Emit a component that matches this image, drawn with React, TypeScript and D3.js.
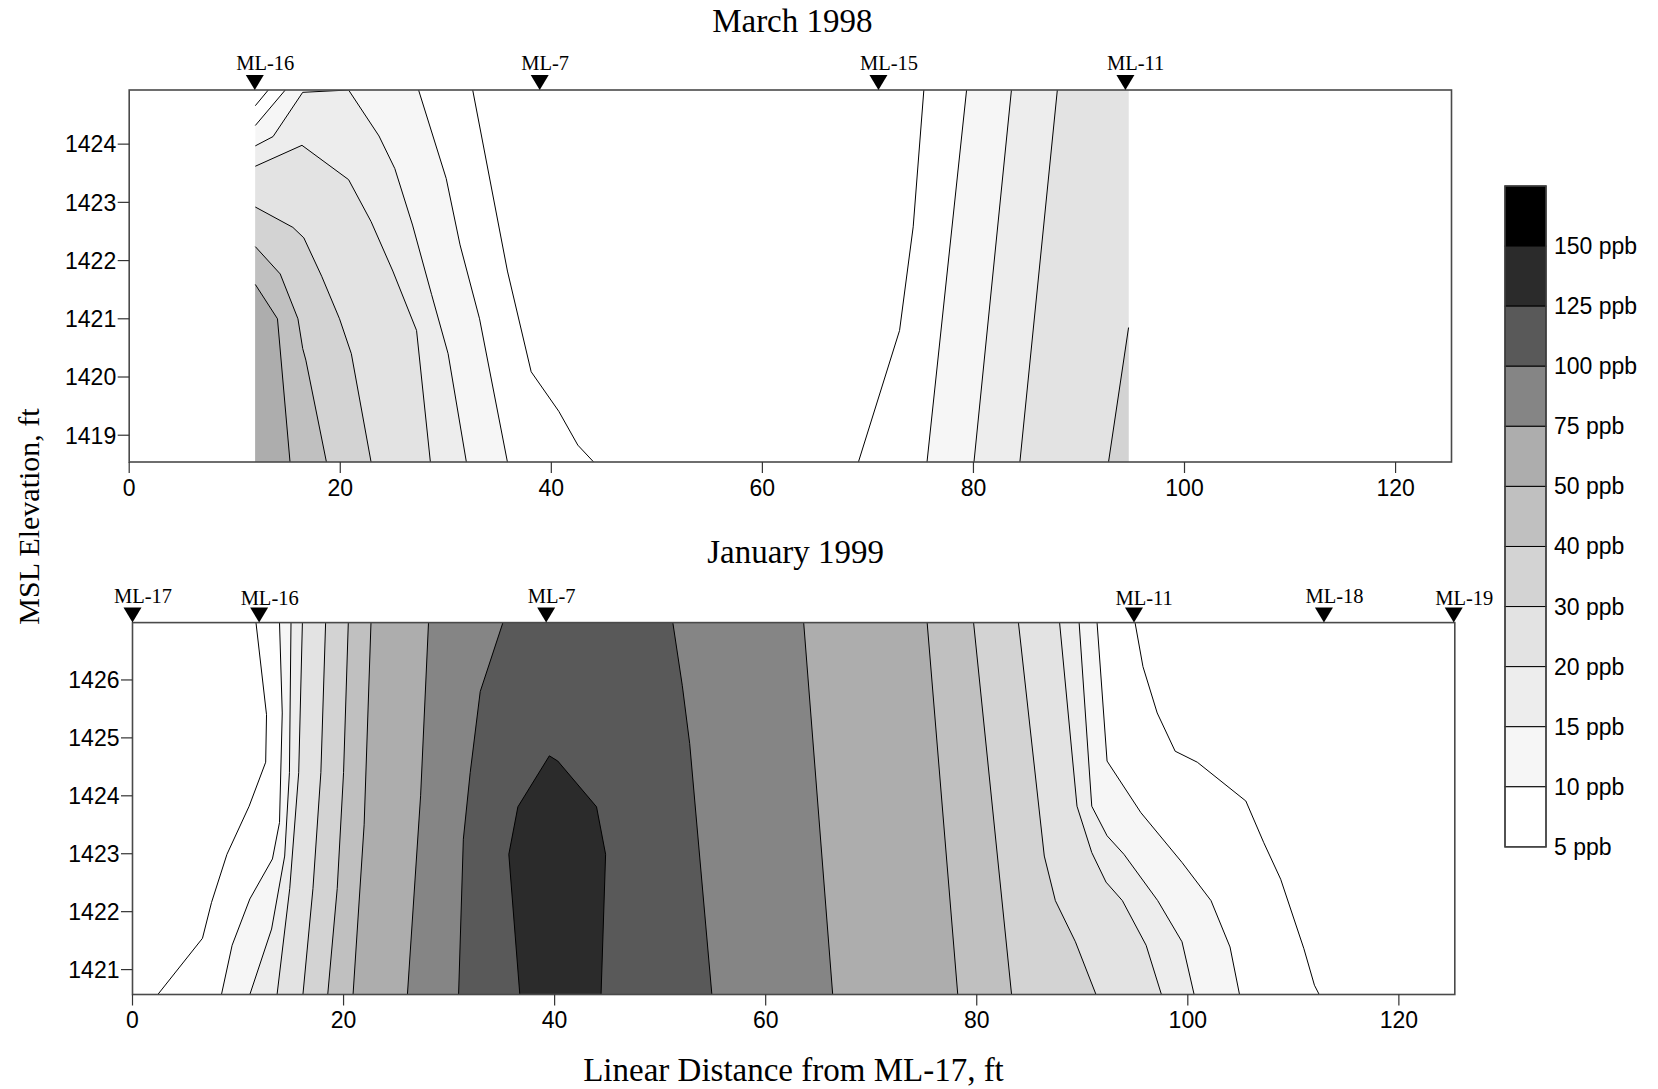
import React from "react";
import * as d3 from "d3";

type Pt = [number, number];

// ---------------- data ----------------
const contourLevels = [5, 10, 15, 20, 30, 40, 50, 75, 100, 125, 150];
const bandFills = ["#ffffff", "#ffffff", "#f6f6f6", "#ededed", "#e3e3e3", "#d3d3d3", "#c0c0c0", "#adadad", "#858585", "#595959", "#2b2b2b", "#000000"];
const legendLabels = ["150 ppb", "125 ppb", "100 ppb", "75 ppb", "50 ppb", "40 ppb", "30 ppb", "20 ppb", "15 ppb", "10 ppb", "5 ppb"];
const xTickValues = [0, 20, 40, 60, 80, 100, 120];
const marchYTicks = [1419, 1420, 1421, 1422, 1423, 1424];
const janYTicks = [1421, 1422, 1423, 1424, 1425, 1426];

const marchWellNames = ["ML-16", "ML-7", "ML-15", "ML-11"];
const marchWellX = [11.9, 38.9, 71.0, 94.4];
const janWellNames = ["ML-17", "ML-16", "ML-7", "ML-11", "ML-18", "ML-19"];
const janWellX = [0, 12.0, 39.2, 94.9, 112.9, 125.2];

const marchDomainX: Pt = [0, 125.3];
const marchDomainY: Pt = [1418.54, 1424.93];
const marchDataX: Pt = [11.95, 94.7];
const janDomainX: Pt = [0, 125.3];
const janDomainY: Pt = [1420.57, 1426.99];

// March 1998 – west plume (high values toward ML-16, lower-left)
const marW50: Pt[][] = [[[11.95, 1421.59], [14.05, 1421.0], [15.24, 1418.54]]];
const marW40: Pt[][] = [[[11.95, 1422.24], [14.31, 1421.77], [15.99, 1421.0], [16.44, 1420.49], [16.74, 1420.29], [18.69, 1418.54]]];
const marW30: Pt[][] = [[[11.95, 1422.92], [15.51, 1422.57], [16.55, 1422.39], [18.24, 1421.73], [19.93, 1421.0], [21.05, 1420.4], [22.92, 1418.54]]];
const marW20: Pt[][] = [[[11.95, 1423.62], [16.37, 1423.98], [20.79, 1423.39], [22.92, 1422.67], [24.98, 1421.82], [27.23, 1420.8], [28.54, 1418.54]]];
const marW15: Pt[][] = [[[11.95, 1423.97], [13.63, 1424.13], [16.44, 1424.89], [20.79, 1424.93], [23.67, 1424.14], [25.17, 1423.58], [26.85, 1422.61], [28.65, 1421.42], [30.22, 1420.4], [31.95, 1418.54]]];
const marW10: Pt[][] = [
  [[11.95, 1424.32], [14.79, 1424.93]],
  [[27.42, 1424.93], [30.04, 1423.41], [31.35, 1422.27], [33.2, 1421.0], [35.84, 1418.54]],
];
const marW5: Pt[][] = [
  [[11.95, 1424.66], [13.18, 1424.93]],
  [[32.55, 1424.93], [35.84, 1421.82], [38.09, 1420.09], [40.71, 1419.41], [42.51, 1418.83], [44.01, 1418.54]],
];
// March 1998 – east plume (high values toward ML-11)
const marE5: Pt[][] = [[[75.3, 1424.93], [74.29, 1422.58], [73.0, 1420.8], [69.1, 1418.54]]];
const marE10: Pt[][] = [[[79.35, 1424.93], [75.6, 1418.54]]];
const marE15: Pt[][] = [[[83.6, 1424.93], [80.05, 1418.54]]];
const marE20: Pt[][] = [[[87.95, 1424.93], [84.4, 1418.54]]];
const marE30: Pt[][] = [[[94.7, 1420.85], [92.8, 1418.54]]];

// January 1999 – left flank (top -> bottom)
const janL5: Pt[] = [[11.7, 1426.99], [12.7, 1425.4], [12.62, 1424.58], [11.05, 1423.82], [8.95, 1422.99], [7.49, 1422.16], [6.63, 1421.54], [2.4, 1420.57]];
const janL10: Pt[] = [[13.93, 1426.99], [14.19, 1425.43], [13.93, 1423.54], [13.26, 1422.91], [11.12, 1422.22], [9.44, 1421.42], [8.43, 1420.57]];
const janL15: Pt[] = [[15.02, 1426.99], [14.87, 1424.4], [14.42, 1422.96], [13.18, 1421.7], [11.12, 1420.57]];
const janL20: Pt[] = [[16.1, 1426.99], [15.75, 1424.4], [14.9, 1422.4], [13.7, 1420.57]];
const janL30: Pt[] = [[18.3, 1426.99], [17.85, 1424.4], [17.1, 1422.4], [16.15, 1420.57]];
const janL40: Pt[] = [[20.45, 1426.99], [20.0, 1424.4], [19.4, 1422.4], [18.5, 1420.57]];
const janL50: Pt[] = [[22.6, 1426.99], [21.95, 1423.5], [20.9, 1420.57]];
const janL75: Pt[] = [[28.05, 1426.99], [27.3, 1424.0], [26.05, 1420.57]];
const janL100: Pt[] = [[35.1, 1426.99], [32.95, 1425.8], [32.0, 1424.4], [31.35, 1423.25], [30.9, 1420.57]];
// January 1999 – right flank (top -> bottom)
const janR5: Pt[] = [[95.0, 1426.99], [95.75, 1426.23], [97.1, 1425.43], [98.8, 1424.77], [100.9, 1424.58], [105.5, 1423.91], [107.2, 1423.19], [108.8, 1422.56], [111.0, 1421.36], [112.0, 1420.73], [112.45, 1420.57]];
const janR10: Pt[] = [[91.4, 1426.99], [92.35, 1424.6], [95.55, 1423.71], [99.45, 1422.85], [102.2, 1422.19], [104.0, 1421.39], [104.9, 1420.57]];
const janR15: Pt[] = [[89.7, 1426.99], [90.9, 1423.82], [92.35, 1423.31], [93.95, 1422.99], [97.15, 1422.19], [99.45, 1421.48], [100.6, 1420.57]];
const janR20: Pt[] = [[87.85, 1426.99], [89.5, 1423.82], [90.9, 1423.02], [92.25, 1422.51], [93.8, 1422.19], [96.05, 1421.42], [97.5, 1420.57]];
const janR30: Pt[] = [[83.95, 1426.99], [86.4, 1422.96], [87.45, 1422.19], [89.35, 1421.48], [91.3, 1420.57]];
const janR40: Pt[] = [[79.7, 1426.99], [83.3, 1420.57]];
const janR50: Pt[] = [[75.3, 1426.99], [78.2, 1420.57]];
const janR75: Pt[] = [[63.6, 1426.99], [66.35, 1420.57]];
const janR100: Pt[] = [[51.2, 1426.99], [52.1, 1425.9], [52.8, 1424.9], [54.9, 1420.57]];
// closed 125 ppb core (resting on the bottom boundary)
const jan125: Pt[] = [[36.7, 1420.57], [35.66, 1422.99], [36.52, 1423.81], [39.5, 1424.69], [40.3, 1424.6], [43.97, 1423.81], [44.83, 1422.99], [44.4, 1420.57]];

// ---------------- helpers ----------------
const color = d3.scaleThreshold<number, string>().domain(contourLevels).range(bandFills);

type Region = { level: number; polygon: Pt[]; lines: Pt[][] };

function marchRegions(): Region[] {
  const [yb, yt] = marchDomainY;
  const west: [number, Pt[][]][] = [[5, marW5], [10, marW10], [15, marW15], [20, marW20], [30, marW30], [40, marW40], [50, marW50]];
  const east: [number, Pt[][]][] = [[5, marE5], [10, marE10], [15, marE15], [20, marE20], [30, marE30]];
  const out: Region[] = [];
  west.forEach(([lv, segs]) => {
    out.push({ level: lv, polygon: [...segs.flat(), [marchDataX[0], yb]], lines: segs });
  });
  east.forEach(([lv, segs]) => {
    const pts = segs.flat();
    const corners: Pt[] = [[marchDataX[1], yb]];
    if (pts[0][1] === yt) corners.push([marchDataX[1], yt]);
    out.push({ level: lv, polygon: [...pts, ...corners], lines: segs });
  });
  return out.sort((a, b) => a.level - b.level);
}

function janRegions(): Region[] {
  const pairs: [number, Pt[], Pt[]][] = [
    [5, janL5, janR5], [10, janL10, janR10], [15, janL15, janR15], [20, janL20, janR20],
    [30, janL30, janR30], [40, janL40, janR40], [50, janL50, janR50], [75, janL75, janR75], [100, janL100, janR100],
  ];
  const out: Region[] = pairs.map(([lv, l, r]) => ({ level: lv, polygon: [...l, ...[...r].reverse()], lines: [l, r] }));
  out.push({ level: 125, polygon: jan125, lines: [jan125] });
  return out;
}

const SERIF = "'Liberation Serif', 'Times New Roman', serif";
const SANS = "'Liberation Sans', Arial, sans-serif";

type PanelCfg = {
  id: string;
  title: string;
  titleY: number;
  xRange: Pt;
  yRange: Pt;
  domX: Pt;
  domY: Pt;
  yTicks: number[];
  wells: string[];
  wellX: number[];
  lift: number[];
  regions: Region[];
};

function Panel({ cfg }: { cfg: PanelCfg }) {
  const x = d3.scaleLinear().domain(cfg.domX).range(cfg.xRange);
  const y = d3.scaleLinear().domain(cfg.domY).range(cfg.yRange);
  const line = d3.line<Pt>().x((d) => x(d[0])).y((d) => y(d[1]));
  const [x0, x1] = cfg.xRange;
  const [yb, yt] = cfg.yRange;
  const cx = (x0 + x1) / 2;
  return (
    <g>
      <defs>
        <clipPath id={`clip-${cfg.id}`}>
          <rect x={x0} y={yt} width={x1 - x0} height={yb - yt} />
        </clipPath>
      </defs>
      <text x={cx + 2} y={cfg.titleY} textAnchor="middle" fontFamily={SERIF} fontSize={33}>{cfg.title}</text>
      <g clipPath={`url(#clip-${cfg.id})`}>
        {cfg.regions.map((r, i) => (
          <path key={`f${i}`} d={line(r.polygon) + "Z"} fill={color(r.level)} stroke="none" />
        ))}
        {cfg.regions.map((r, i) =>
          r.lines.map((seg, j) => (
            <path key={`l${i}-${j}`} d={line(seg) || ""} fill="none" stroke="#000" strokeWidth={1} strokeLinejoin="round" />
          ))
        )}
      </g>
      <rect x={x0} y={yt} width={x1 - x0} height={yb - yt} fill="none" stroke="#4a4a4a" strokeWidth={1.6} />
      {xTickValues.map((t) => (
        <g key={`xt${t}`}>
          <line x1={x(t)} x2={x(t)} y1={yb} y2={yb + 11} stroke="#333" strokeWidth={1.2} />
          <text x={x(t)} y={yb + 33.5} textAnchor="middle" fontFamily={SANS} fontSize={23}>{t}</text>
        </g>
      ))}
      {cfg.yTicks.map((t) => (
        <g key={`yt${t}`}>
          <line x1={x0 - 11.5} x2={x0} y1={y(t)} y2={y(t)} stroke="#333" strokeWidth={1.2} />
          <text x={x0 - 13} y={y(t) + 8.3} textAnchor="end" fontFamily={SANS} fontSize={23}>{t}</text>
        </g>
      ))}
      {cfg.wells.map((w, i) => {
        const wx = x(cfg.wellX[i]);
        return (
          <g key={`w${i}`}>
            <path d={`M${wx - 9},${yt - 15}L${wx + 9},${yt - 15}L${wx},${yt}Z`} fill="#000" />
            <text x={wx - 18.5} y={yt - cfg.lift[i]} fontFamily={SERIF} fontSize={20.5}>{w}</text>
          </g>
        );
      })}
    </g>
  );
}

export default function App() {
  const marchCfg: PanelCfg = {
    id: "mar",
    title: "March 1998",
    titleY: 31.5,
    xRange: [129.2, 1451.5],
    yRange: [462, 90],
    domX: marchDomainX,
    domY: marchDomainY,
    yTicks: marchYTicks,
    wells: marchWellNames,
    wellX: marchWellX,
    lift: [20, 20, 20, 20],
    regions: marchRegions(),
  };
  const janCfg: PanelCfg = {
    id: "jan",
    title: "January 1999",
    titleY: 563,
    xRange: [132.5, 1454.8],
    yRange: [994.5, 622.6],
    domX: janDomainX,
    domY: janDomainY,
    yTicks: janYTicks,
    wells: janWellNames,
    wellX: janWellX,
    lift: [20, 17.3, 20, 17.3, 20, 17.8],
    regions: janRegions(),
  };

  const legX = 1505, legW = 41, legTop = 186, legH = 60.08;
  const legendFills = [...bandFills].reverse().slice(0, legendLabels.length);
  const legY = d3.scaleLinear().domain([0, legendLabels.length]).range([legTop, legTop + legH * legendLabels.length]);

  return (
    <svg width={1658} height={1089} style={{ position: "absolute", left: 0, top: 0, background: "#fff" }}>
      <rect x={0} y={0} width={1658} height={1089} fill="#fff" />
      <Panel cfg={marchCfg} />
      <Panel cfg={janCfg} />
      <text transform="translate(39,516.5) rotate(-90)" textAnchor="middle" fontFamily={SERIF} fontSize={30}>MSL Elevation, ft</text>
      <text x={793.5} y={1080.5} textAnchor="middle" fontFamily={SERIF} fontSize={33}>Linear Distance from ML-17, ft</text>
      <g>
        {legendFills.map((c, i) => (
          <rect key={`lg${i}`} x={legX} y={legY(i)} width={legW} height={legY(i + 1) - legY(i)} fill={c} stroke="#000" strokeWidth={1} />
        ))}
        <rect x={legX} y={legTop} width={legW} height={legY(legendLabels.length) - legTop} fill="none" stroke="#444" strokeWidth={1.5} />
        {legendLabels.map((l, i) => (
          <text key={`ll${i}`} x={1554} y={legY(i + 1) + 8} fontFamily={SANS} fontSize={23}>{l}</text>
        ))}
      </g>
    </svg>
  );
}
